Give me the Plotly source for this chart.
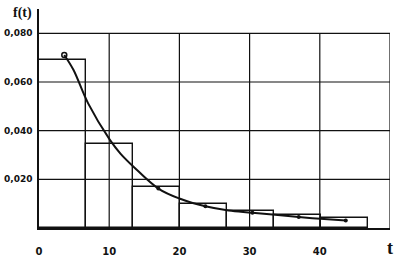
import plotly.graph_objects as go

# histogram bins (t) and densities
bin_left = [0.0, 6.7, 13.4, 20.1, 26.8, 33.5, 40.2]
bin_width = 6.7
bin_height = [0.0690, 0.0344, 0.0168, 0.0098, 0.0069, 0.0052, 0.0042]

# fitted curve
curve_t = [3.6, 4.9, 7.0, 10.1, 11.6, 13.5, 17.0, 20.1, 23.7, 27.0, 30.4, 37.0, 40.1, 43.7]
curve_f = [0.0711, 0.0650, 0.0512, 0.0362, 0.0306, 0.0251, 0.0162, 0.0120, 0.0089,
           0.0072, 0.0063, 0.0045, 0.0038, 0.0031]

# marked points on the curve
open_t = [3.6]
open_f = [0.0711]
dot_t = [17.0, 23.7, 30.4, 37.0, 43.7]
dot_f = [0.0162, 0.0089, 0.0063, 0.0045, 0.0031]

x_ticks = [0, 10, 20, 30, 40]
x_grid = [10, 20, 30, 40, 50]
y_ticks = [0.020, 0.040, 0.060, 0.080]
y_labels = ["0,020", "0,040", "0,060", "0,080"]

INK = "#111111"
fig = go.Figure()

# grid (limited to the 0.080 frame)
shapes = []
for gx in x_grid:
    shapes.append(dict(type="line", xref="x", yref="y", x0=gx, x1=gx, y0=0, y1=y_ticks[-1],
                       line=dict(color=INK, width=1.2), layer="below"))
for gy in y_ticks:
    shapes.append(dict(type="line", xref="x", yref="y", x0=0, x1=x_grid[-1], y0=gy, y1=gy,
                       line=dict(color=INK, width=1.2), layer="below"))

fig.add_trace(go.Bar(
    x=[l + bin_width / 2 for l in bin_left], y=bin_height, width=bin_width,
    marker=dict(color="rgba(0,0,0,0)", line=dict(color=INK, width=1.4)),
    hoverinfo="skip"))

fig.add_trace(go.Scatter(x=curve_t, y=curve_f, mode="lines",
                         line=dict(color=INK, width=2, shape="spline")))
fig.add_trace(go.Scatter(x=open_t, y=open_f, mode="markers",
                         marker=dict(symbol="circle-open", size=5, color=INK, line=dict(width=1.5))))
fig.add_trace(go.Scatter(x=dot_t, y=dot_f, mode="markers",
                         marker=dict(symbol="circle", size=4, color=INK)))

fig.update_layout(
    width=405, height=258,
    margin=dict(l=39, r=15, t=9, b=30),
    paper_bgcolor="white", plot_bgcolor="white",
    showlegend=False, bargap=0,
    shapes=shapes,
    font=dict(family="DejaVu Sans", color=INK),
    annotations=[
        dict(text="<b>f(t)</b>", xref="paper", yref="paper", x=-0.015, y=1.0,
             xanchor="right", yanchor="bottom", showarrow=False,
             font=dict(family="Liberation Serif", size=14, color=INK), yshift=-14),
        dict(text="<b>t</b>", xref="x", yref="paper", x=50, y=0,
             xanchor="center", yanchor="top", showarrow=False, yshift=-8,
             font=dict(family="Liberation Serif", size=18, color=INK)),
    ],
)
fig.update_xaxes(range=[0, 50], tickvals=x_ticks, ticktext=[str(v) for v in x_ticks],
                 showgrid=False, zeroline=False, showline=True, linecolor=INK, linewidth=1.5,
                 ticks="", ticklabelstandoff=13, automargin=False,
                 tickfont=dict(family="DejaVu Sans", size=10, color=INK, weight="bold"))
fig.update_yaxes(range=[0, 0.09], tickvals=y_ticks, ticktext=y_labels,
                 showgrid=False, zeroline=False, showline=True, linecolor=INK, linewidth=1.5,
                 ticks="", ticklabelstandoff=3, automargin=False,
                 tickfont=dict(family="DejaVu Sans", size=9, color=INK, weight="bold"))

fig.write_html("out.html")
